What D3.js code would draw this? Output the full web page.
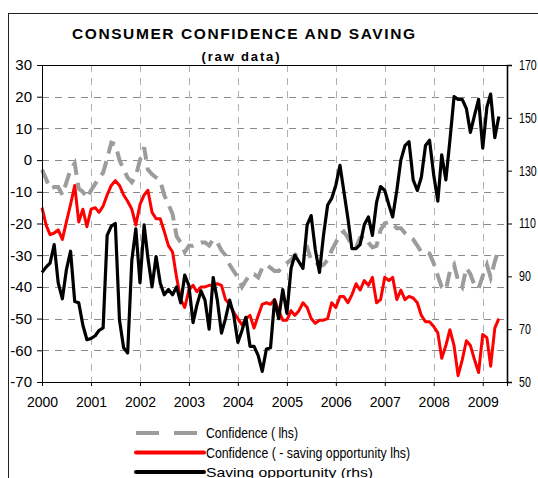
<!DOCTYPE html>
<html>
<head>
<meta charset="utf-8">
<script src="https://cdn.jsdelivr.net/npm/d3@7"></script>
<style>
  body { margin: 0; background: #fff; }
  svg { display: block; font-family: "Liberation Sans", Arial, sans-serif; }
</style>
</head>
<body>
<div id="chart"></div>
<script>
// monthly, Jan 2000 .. May 2009
const months = d3.timeMonth.range(new Date(2000, 0, 1), new Date(2009, 5, 1));
const years = [2000, 2001, 2002, 2003, 2004, 2005, 2006, 2007, 2008, 2009];
const leftTicks = [-70, -60, -50, -40, -30, -20, -10, 0, 10, 20, 30];
const rightTicks = [50, 70, 90, 110, 130, 150, 170];

// Confidence (lhs)
const confidence = [
  -3, -6, -9, -8.5, -8.5, -11, -7, -3, -1, -9, -10, -12,
  -9.5, -7.5, -5.5, -4, 0.5, 5.5, 5, 0, -3, -5.5, -7, -5,
  0, 4, -3, -4.5, -5.5, -6.5, -11, -14, -17, -24, -26, -29,
  -27, -27, -26.5, -26, -26, -27, -25, -26, -28.5, -30, -33, -35,
  -37, -40, -38, -36, -36, -37, -34, -33, -34, -35, -35, -33.5,
  -32.5, -31.5, -30, -29, -28.5, -27.5, -31.5, -32, -33.5, -33, -31.5, -28.5,
  -26, -23.5, -22.5, -24.5, -27, -27.5, -24.5, -24, -26, -27.5, -27, -22,
  -20, -19.5, -20, -21.5, -21.5, -23, -24, -25, -27, -29, -29, -29.5,
  -32.5, -36.5, -40, -41, -35, -33, -38, -40, -34, -36, -39.5, -40.5,
  -36.5, -33, -37, -32, -28
];

// Confidence (- saving opportunity, lhs)
const confidenceAdj = [
  -15, -20.5, -23.5, -23, -22, -25, -19.5, -14, -8, -19.5, -15.5, -21,
  -15.5, -15, -16.5, -14.5, -11, -8, -6.5, -8, -11, -13, -15.5, -20.5,
  -14, -11, -9.5, -16.5, -18.5, -18.5, -22.5, -27, -29, -37, -44, -46.5,
  -41, -39.5, -41.5, -40, -40, -39.5, -39.5, -39, -39.5, -44, -45.5, -48,
  -50, -52, -50, -49, -53, -49, -45.5, -45, -45.5, -44, -47.5, -50.5,
  -50.5, -47.5, -49, -47.5, -45, -46.5, -50, -51.5, -50.5, -50.5, -50, -45,
  -46.5, -43, -43, -45, -42.5, -39, -41, -38, -39.5, -37, -45, -44,
  -37, -38, -37, -44, -41, -44, -43, -43.5, -45, -49, -51, -51,
  -52.5, -54.5, -62.5, -58.5, -53.5, -58.5, -68, -63, -57, -58.5, -63, -67,
  -55, -56, -65, -53, -50
];

// Saving opportunity (rhs)
const saving = [
  91.5, 93.5, 95, 102, 87.5, 81.5, 92.5, 99.5, 80.5, 80, 71.5, 66,
  66.5, 67.5, 69.5, 70.5, 105.5, 109, 110, 73.5, 63, 61, 96, 108,
  87.5, 109.5, 97, 86, 97.5, 87.5, 83, 85, 83, 86, 80, 90.5,
  86.5, 72.5, 79, 84.5, 81, 70, 89.5, 81, 68.5, 74, 81, 75.5,
  65, 69.5, 74.5, 63.5, 63.5, 60, 54, 62.5, 63, 81, 74, 85,
  76, 93, 98, 95.5, 93, 109.5, 113, 100, 91.5, 105.5, 117, 119.5,
  124.5, 132, 122.5, 112, 100.5, 100.5, 102, 109.5, 112.5, 105.5, 118, 124,
  122.5, 117, 112.5, 122.5, 134, 139.5, 141, 126.5, 122.5, 127.5, 139.5, 141.5,
  128.5, 118.5, 136, 126.5, 141.5, 158, 157, 157, 153.5, 144.5, 151, 157,
  138.5, 154, 159, 142.5, 150.5
];

const W = 538, H = 478;
const plotLeft = 42, plotRight = 507, plotTop = 65, plotBottom = 382;

const svg = d3.select("#chart").append("svg")
  .attr("width", W)
  .attr("height", H);

// chart area frame (runs off the picture at right and bottom)
svg.append("rect")
  .attr("x", 8.5).attr("y", 13.5)
  .attr("width", 560).attr("height", 500)
  .attr("fill", "none")
  .attr("stroke", "#222");

svg.append("text")
  .attr("x", 243.5).attr("y", 38.5)
  .attr("text-anchor", "middle")
  .attr("font-size", 15.5).attr("font-weight", "bold")
  .attr("textLength", 343).attr("lengthAdjust", "spacing")
  .text("CONSUMER CONFIDENCE AND SAVING");

svg.append("text")
  .attr("x", 240.5).attr("y", 60.5)
  .attr("text-anchor", "middle")
  .attr("font-size", 13).attr("font-weight", "bold")
  .attr("textLength", 78).attr("lengthAdjust", "spacing")
  .text("(raw data)");

let x = d3.scaleTime()
  .domain([new Date(2000, 0, 1), new Date(2009, 6, 1)])
  .range([plotLeft, plotRight]);
let yL = d3.scaleLinear().domain([-70, 30]).range([plotBottom, plotTop]);
let yR = d3.scaleLinear().domain([50, 170]).range([plotBottom, plotTop]);

const yearDates = years.map(d => new Date(d, 0, 1));

// grid
svg.append("g")
  .selectAll("line")
  .data(leftTicks.filter(d => d > -70 && d < 30))
  .join("line")
  .attr("x1", plotLeft).attr("x2", plotRight)
  .attr("y1", d => Math.round(yL(d)) + 0.5)
  .attr("y2", d => Math.round(yL(d)) + 0.5)
  .attr("stroke", "#8a8a8a")
  .attr("stroke-dasharray", "7,6");

svg.append("g")
  .selectAll("line")
  .data(yearDates.slice(1))
  .join("line")
  .attr("x1", d => Math.round(x(d)) + 0.5)
  .attr("x2", d => Math.round(x(d)) + 0.5)
  .attr("y1", plotTop).attr("y2", plotBottom)
  .attr("stroke", "#b0b0b0")
  .attr("stroke-dasharray", "7,6");

// top border of plot
svg.append("line")
  .attr("x1", plotLeft).attr("x2", plotRight)
  .attr("y1", plotTop + 0.5).attr("y2", plotTop + 0.5)
  .attr("stroke", "#000");

// series
const lineL = (vals) => d3.line()
  .x((d, i) => x(months[i]))
  .y(d => yL(d))(vals);

svg.append("path")
  .attr("d", lineL(confidence))
  .attr("fill", "none")
  .attr("stroke", "#9c9c9c")
  .attr("stroke-width", 4)
  .attr("stroke-dasharray", "15,8");

svg.append("path")
  .attr("d", lineL(confidenceAdj))
  .attr("fill", "none")
  .attr("stroke", "#ff0000")
  .attr("stroke-width", 3)
  .attr("stroke-linejoin", "round");

svg.append("path")
  .attr("d", d3.line()
    .x((d, i) => x(months[i]))
    .y(d => yR(d))(saving))
  .attr("fill", "none")
  .attr("stroke", "#000")
  .attr("stroke-width", 3.2)
  .attr("stroke-linejoin", "round");

// axes
const gl = svg.append("g")
  .attr("transform", "translate(" + plotLeft + ",0)")
  .call(d3.axisLeft(yL).tickValues(leftTicks).tickSize(5).tickPadding(5)
    .tickFormat(d => String(d)));
gl.selectAll("text").attr("font-size", 15).attr("fill", "#000").attr("font-family", null);

const gb = svg.append("g")
  .attr("transform", "translate(0," + plotBottom + ")")
  .call(d3.axisBottom(x).tickValues(yearDates).tickSize(4).tickPadding(11)
    .tickFormat(d3.timeFormat("%Y")));
gb.selectAll("text").attr("font-size", 14).attr("fill", "#000").attr("font-family", null);

// right labels are drawn narrow, as in the original
const narrow = 0.76;
const gr = svg.append("g")
  .attr("transform", "translate(" + plotRight + ",0)")
  .call(d3.axisRight(yR).tickValues(rightTicks).tickSize(5).tickPadding(7)
    .tickFormat(d => String(d)));
gr.selectAll("text").attr("font-size", 14).attr("fill", "#000").attr("font-family", null)
  .attr("x", 12 / narrow)
  .attr("transform", "scale(" + narrow + ",1)");
gr.select(".domain").attr("stroke-width", 1.6);

[gl, gb, gr].forEach(g => {
  g.select(".domain").attr("stroke", "#000");
  g.selectAll(".tick line").attr("stroke", "#000");
});

// legend
const legend = [
  { label: "Confidence ( lhs)", color: "#9c9c9c", dash: "23,15", y: 433, len: 92 },
  { label: "Confidence ( - saving opportunity lhs)", color: "#ff0000", dash: null, y: 452.5, len: 204 },
  { label: "Saving opportunity (rhs)", color: "#000", dash: null, y: 472, len: 167 }
];

const lg = svg.append("g");
legend.forEach((d, i) => {
  lg.append("line")
    .attr("x1", 136).attr("x2", 204)
    .attr("y1", d.y).attr("y2", d.y)
    .attr("stroke", d.color)
    .attr("stroke-width", 4)
    .attr("stroke-linecap", d.dash ? "butt" : "round")
    .attr("stroke-dasharray", d.dash);
  lg.append("text")
    .attr("x", 206).attr("y", i < 2 ? d.y + 5 : d.y + 4.5)
    .attr("font-size", i < 2 ? 14 : 13)
    .attr("textLength", d.len).attr("lengthAdjust", "spacingAndGlyphs")
    .text(d.label);
});
</script>
</body>
</html>
